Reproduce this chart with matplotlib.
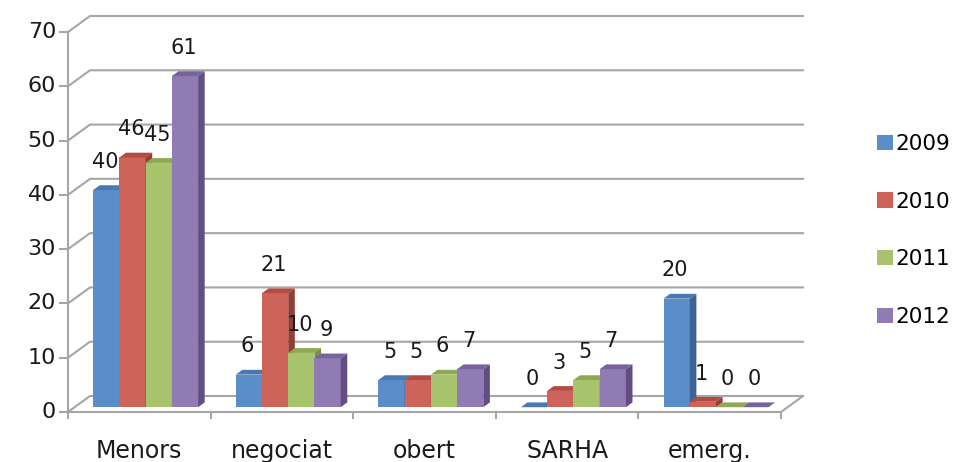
import matplotlib
matplotlib.use("Agg")
import matplotlib.pyplot as plt
from matplotlib.patches import Polygon, Patch

categories = ["Menors", "negociat", "obert", "SARHA", "emerg."]
years = ["2009", "2010", "2011", "2012"]
v2009 = [40, 6, 5, 0, 20]
v2010 = [46, 21, 5, 3, 1]
v2011 = [45, 10, 6, 5, 0]
v2012 = [61, 9, 7, 7, 0]
series = [v2009, v2010, v2011, v2012]
yticks = [0, 10, 20, 30, 40, 50, 60, 70]

# front, top, side shades
front_cols = ["#5B8DC9", "#CD6359", "#A7C46C", "#917BB4"]
top_cols = ["#4A78B0", "#B44B42", "#8DAA52", "#79639C"]
side_cols = ["#3D6496", "#943D37", "#768F43", "#634E83"]

W, H = 957, 462
fig = plt.figure(figsize=(W / 100, H / 100), dpi=100)
# front plane of the chart: x 68..781 px, y 412..32 px
ax = fig.add_axes([68 / W, 1 - 412 / H, (781 - 68) / W, (412 - 32) / H])
ax.set_xlim(0, 5)
ax.set_ylim(0, 70)
ax.axis("off")

px_x = 5 / (781 - 68)      # data units per pixel
px_y = 70 / (412 - 32)
DX, DY = 22 * px_x, 16 * px_y   # depth of the chart box
grid_c = "#A6A6A6"
txt_c = "#1A1A1A"

# walls / gridlines
for v in yticks:
    ax.plot([0, DX, 5 + DX], [v, v + DY, v + DY], color=grid_c, lw=1.5, clip_on=False, zorder=1)
    ax.plot([-8 * px_x, 0], [v, v], color=grid_c, lw=1.5, clip_on=False, zorder=1)
    ax.text(-12 * px_x, v, str(v), ha="right", va="center", fontsize=16, color=txt_c)
ax.plot([0, 0], [-6 * px_y, 70], color=grid_c, lw=1.5, clip_on=False, zorder=1)
ax.plot([0, 5, 5 + DX], [0, 0, DY], color=grid_c, lw=1.5, clip_on=False, zorder=1)
for i in range(1, 6):
    ax.plot([i, i], [0, -6 * px_y], color=grid_c, lw=1.5, clip_on=False, zorder=1)

# bars
f0, f1 = 0.3, 0.6
bw = 0.184
gap = 0.13
for i, cat in enumerate(categories):
    ax.text(i + 0.5, -4.9, cat, ha="center", va="top", fontsize=17, color=txt_c)
    for j, vals in enumerate(series):
        v = vals[i]
        xl = i + gap + j * bw + f0 * DX
        xr = xl + bw
        yb = f0 * DY
        yt = yb + v
        ddx, ddy = (f1 - f0) * DX, (f1 - f0) * DY
        z = 3 + j
        ax.add_patch(Polygon([(xl, yb), (xr, yb), (xr, yt), (xl, yt)], closed=True,
                             fc=front_cols[j], ec="none", clip_on=False, zorder=z))
        ax.add_patch(Polygon([(xl, yt), (xr, yt), (xr + ddx, yt + ddy), (xl + ddx, yt + ddy)],
                             closed=True, fc=top_cols[j], ec="none", clip_on=False, zorder=z))
        ax.add_patch(Polygon([(xr, yb), (xr + ddx, yb + ddy), (xr + ddx, yt + ddy), (xr, yt)],
                             closed=True, fc=side_cols[j], ec="none", clip_on=False, zorder=z))
        ax.text((xl + xr) / 2 - 0.01, yt + 5.2, str(v), ha="center", va="center",
                fontsize=15, color=txt_c, zorder=10)

handles = [Patch(fc=c, ec="none") for c in front_cols]
fig.legend(handles, years, loc="upper left", bbox_to_anchor=(877 / W, 1 - 134 / H),
           frameon=False, fontsize=15.5, handlelength=0.72, handleheight=0.72,
           handletextpad=0.15, labelspacing=1.75, borderpad=0, borderaxespad=0)

fig.savefig("out.png", dpi=100, facecolor="white")
